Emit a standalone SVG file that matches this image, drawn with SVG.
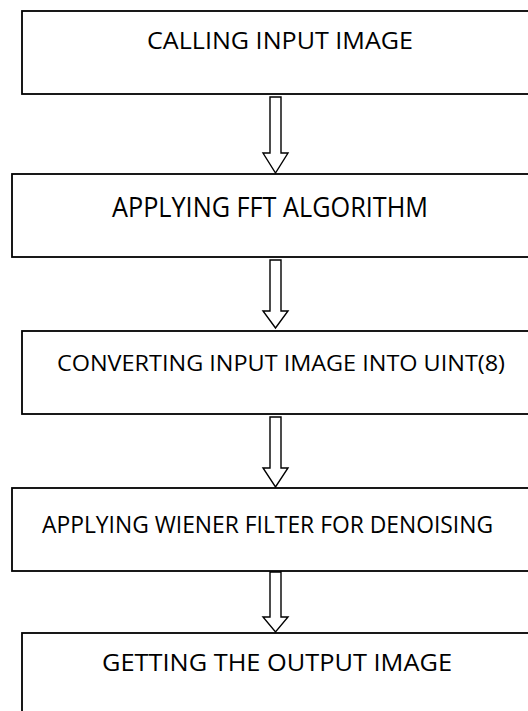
<svg xmlns="http://www.w3.org/2000/svg" width="528" height="711" viewBox="0 0 528 711">
<style>
.box{fill:#fff;stroke:#000;stroke-width:1.8}
.lbl{font-family:"Open Sans","Liberation Sans",sans-serif;fill:#000;text-anchor:start}
.arr{fill:#fff;stroke:#000;stroke-width:1.4;stroke-linejoin:miter}
</style>
<rect width="528" height="711" fill="#fff"/>
<g id="connectors">
<polygon class="arr" points="270,97 281,97 281,153 288,153 275.5,173 263,153 270,153"/>
<polygon class="arr" points="270,260 281,260 281,311 288,311 275.5,328 263,311 270,311"/>
<polygon class="arr" points="270,417 281,417 281,468 288,468 275.5,487 263,468 270,468"/>
<polygon class="arr" points="270,572 281,572 281,617 288,617 275.5,632 263,617 270,617"/>
</g>
<g id="node1">
<rect class="box" x="22" y="11" width="520" height="83"/>
<text class="lbl" x="147" y="49" font-size="23" textLength="266" lengthAdjust="spacingAndGlyphs">CALLING INPUT IMAGE</text>
</g>
<g id="node2">
<rect class="box" x="12" y="174" width="530" height="83"/>
<text class="lbl" x="112" y="217" font-size="27" textLength="316" lengthAdjust="spacingAndGlyphs">APPLYING FFT ALGORITHM</text>
</g>
<g id="node3">
<rect class="box" x="22" y="331" width="520" height="83"/>
<text class="lbl" x="57" y="371" font-size="22" textLength="448" lengthAdjust="spacingAndGlyphs">CONVERTING INPUT IMAGE INTO UINT(8)</text>
</g>
<g id="node4">
<rect class="box" x="12" y="488" width="530" height="83"/>
<text class="lbl" x="42" y="533" font-size="23" textLength="451" lengthAdjust="spacingAndGlyphs">APPLYING WIENER FILTER FOR DENOISING</text>
</g>
<g id="node5">
<rect class="box" x="22" y="633" width="520" height="90"/>
<text class="lbl" x="102" y="671" font-size="24" textLength="350" lengthAdjust="spacingAndGlyphs">GETTING THE OUTPUT IMAGE</text>
</g>
</svg>
